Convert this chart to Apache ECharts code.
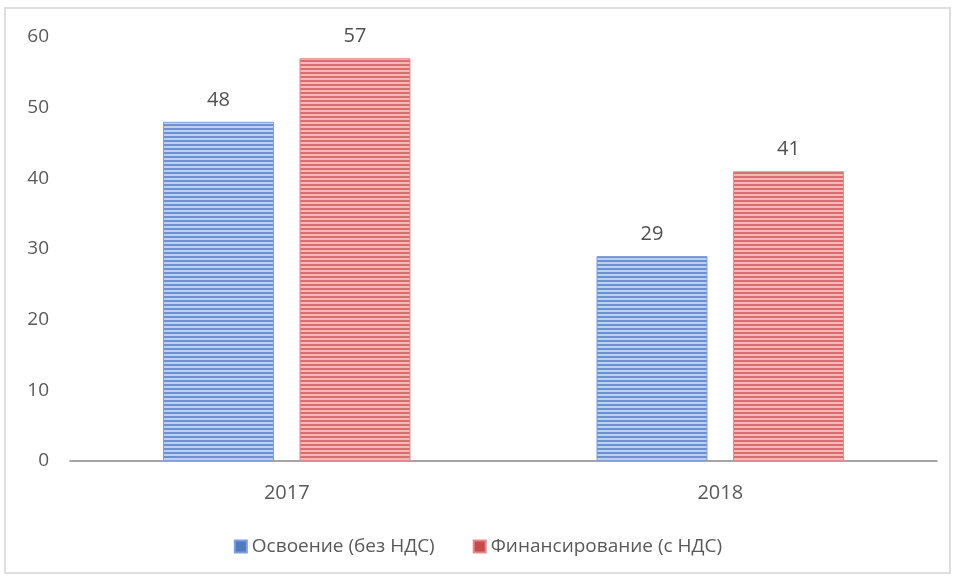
<!DOCTYPE html>
<html>
<head>
<meta charset="utf-8">
<script src="https://cdn.jsdelivr.net/npm/echarts@6/dist/echarts.min.js"></script>
<style>
  html, body { margin: 0; padding: 0; background: #fff; }
  #chart { width: 956px; height: 580px; }
</style>
</head>
<body>
<div id="chart"></div>
<script>
// данные
const years = ['2017', '2018'];
const osvoenie = [48, 29];
const finansirovanie = [57, 41];
const seriesNames = ['Освоение (без НДС)', 'Финансирование (с НДС)'];

// полосатая заливка как в Excel
function stripes(dark, light) {
  const c = document.createElement('canvas');
  c.width = 4; c.height = 4;
  const ctx = c.getContext('2d');
  ctx.fillStyle = light;
  ctx.fillRect(0, 0, 4, 4);
  ctx.fillStyle = dark;
  ctx.fillRect(0, 0, 4, 2);
  return { image: c, repeat: 'repeat' };
}

const chart = echarts.init(document.getElementById('chart'));
const font = 'Open Sans, Noto Sans, sans-serif';

const option = {
  animation: false,
  textStyle: { fontFamily: font },
  graphic: [{
    type: 'rect',
    shape: { x: 5, y: 8, width: 945, height: 565 },
    style: { fill: 'none', stroke: '#dedede', lineWidth: 2 },
    silent: true
  }],
  grid: { left: 70, right: 19, top: 37, bottom: 119 },
  legend: {
    bottom: 19,
    left: 'center',
    itemWidth: 12,
    itemHeight: 12,
    itemGap: 38,
    icon: 'rect',
    textStyle: { fontSize: 19, color: '#595959', fontFamily: font },
    data: seriesNames
  },
  xAxis: {
    type: 'category',
    data: years,
    axisLine: { lineStyle: { color: '#888888', width: 1.5 } },
    axisTick: { show: false },
    axisLabel: { fontSize: 20, color: '#595959', margin: 22 }
  },
  yAxis: {
    type: 'value',
    min: 0,
    max: 60,
    interval: 10,
    splitLine: { show: false },
    axisLine: { show: false },
    axisTick: { show: false },
    axisLabel: { fontSize: 19, color: '#595959', margin: 21 }
  },
  series: [
    {
      name: seriesNames[0],
      type: 'bar',
      data: osvoenie,
      barWidth: 111,
      barGap: '23%',
      itemStyle: {
        color: stripes('#6a92d2', '#bcd0ef'),
        borderColor: '#7e9fd8',
        borderWidth: 1
      },
      label: { show: true, position: 'top', distance: 12, fontSize: 20, color: '#505050' }
    },
    {
      name: seriesNames[1],
      type: 'bar',
      data: finansirovanie,
      barWidth: 111,
      barGap: '23%',
      itemStyle: {
        color: stripes('#d96d6c', '#f2b9b8'),
        borderColor: '#e08a89',
        borderWidth: 1
      },
      label: { show: true, position: 'top', distance: 12, fontSize: 20, color: '#505050' }
    }
  ]
};

chart.setOption(option);
// цвета значков легенды
chart.setOption({
  legend: {
    data: [
      { name: seriesNames[0], itemStyle: { color: '#4f79c0' } },
      { name: seriesNames[1], itemStyle: { color: '#c9494a' } }
    ]
  }
});
</script>
</body>
</html>
